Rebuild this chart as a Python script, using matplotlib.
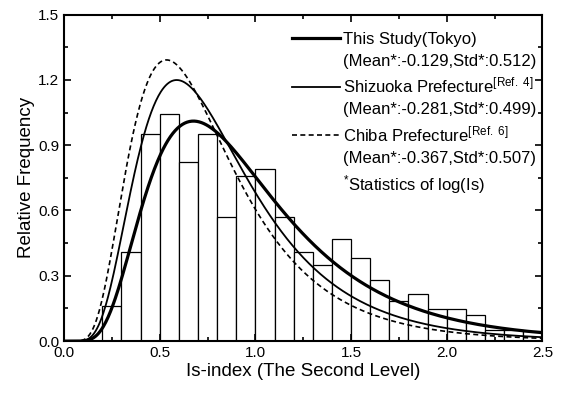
import numpy as np
import matplotlib.pyplot as plt
from matplotlib.lines import Line2D
from matplotlib.ticker import MultipleLocator

plt.rcParams['font.family'] = ['Liberation Sans', 'DejaVu Sans']
plt.rcParams['mathtext.fontset'] = 'custom'
plt.rcParams['mathtext.rm'] = 'Liberation Sans'
plt.rcParams['mathtext.it'] = 'Liberation Sans:italic'

# Histograma de frecuencia relativa (bordes izquierdos de cada clase, ancho 0.1)
bin_left = [0.2, 0.3, 0.4, 0.5, 0.6, 0.7, 0.8, 0.9, 1.0, 1.1, 1.2, 1.3,
            1.4, 1.5, 1.6, 1.7, 1.8, 1.9, 2.0, 2.1, 2.2, 2.3, 2.4]
rel_freq = [0.16, 0.41, 0.95, 1.045, 0.825, 0.95, 0.57, 0.76, 0.79, 0.57,
            0.41, 0.35, 0.47, 0.38, 0.28, 0.185, 0.215, 0.147, 0.147, 0.12,
            0.05, 0.05, 0.045]
bin_width = 0.1

# Parametros de log(Is) para cada region
regiones = ['This Study(Tokyo)', 'Shizuoka Prefecture', 'Chiba Prefecture']
refs = ['', '4', '6']
medias = [-0.129, -0.281, -0.367]
desvs = [0.512, 0.499, 0.507]


def lognormal_pdf(x, mu, sigma):
    return np.exp(-(np.log(x) - mu) ** 2 / (2 * sigma ** 2)) / (x * sigma * np.sqrt(2 * np.pi))


fig = plt.figure(figsize=(5.62, 3.93), dpi=100)
ax = fig.add_axes([0.114, 0.132, 0.851, 0.831])

ax.bar(bin_left, rel_freq, width=bin_width, align='edge',
       facecolor='white', edgecolor='black', linewidth=0.9, zorder=1)

x = np.linspace(0.001, 2.5, 600)
estilos = [dict(lw=2.3, ls='-'), dict(lw=1.3, ls='-'), dict(lw=1.2, ls=(0, (3, 2)))]
for mu, sd, st in zip(medias, desvs, estilos):
    ax.plot(x, lognormal_pdf(x, mu, sd), color='black', zorder=3, **st)

ax.set_xlim(0, 2.5)
ax.set_ylim(0, 1.5)
ax.xaxis.set_major_locator(MultipleLocator(0.5))
ax.xaxis.set_minor_locator(MultipleLocator(0.25))
ax.yaxis.set_major_locator(MultipleLocator(0.3))
ax.yaxis.set_minor_locator(MultipleLocator(0.15))
ax.xaxis.set_major_formatter(plt.FormatStrFormatter('%.1f'))
ax.yaxis.set_major_formatter(plt.FormatStrFormatter('%.1f'))
ax.tick_params(which='both', direction='in', top=True, right=True, labelsize=11, width=1.2)
ax.tick_params(which='major', length=5)
ax.tick_params(which='minor', length=3)
for sp in ax.spines.values():
    sp.set_linewidth(1.5)

ax.set_xlabel('Is-index (The Second Level)', fontsize=13.5, labelpad=2)
ax.set_ylabel('Relative Frequency', fontsize=13.5, labelpad=2)

# Leyenda con lineas de estadisticas debajo de cada region
vacio = Line2D([], [], color='none')
handles, labels = [], []
for i, (reg, ref, mu, sd, st) in enumerate(zip(regiones, refs, medias, desvs, estilos)):
    handles.append(Line2D([], [], color='black', **st))
    if ref:
        labels.append(reg + r'$^{\mathrm{[Ref.\ ' + ref + r']}}$')
    else:
        labels.append(reg)
    handles.append(vacio)
    labels.append(f'(Mean*:{mu:.3f},Std*:{sd:.3f})')
handles.append(vacio)
labels.append(r'$^{*}$Statistics of log(Is)')

ax.legend(handles, labels, loc='upper left', bbox_to_anchor=(0.477, 0.948),
          frameon=False, fontsize=12.0, handlelength=2.85, handletextpad=0.2,
          labelspacing=0.42, borderpad=0, borderaxespad=0)

fig.savefig('out.png', dpi=100)
